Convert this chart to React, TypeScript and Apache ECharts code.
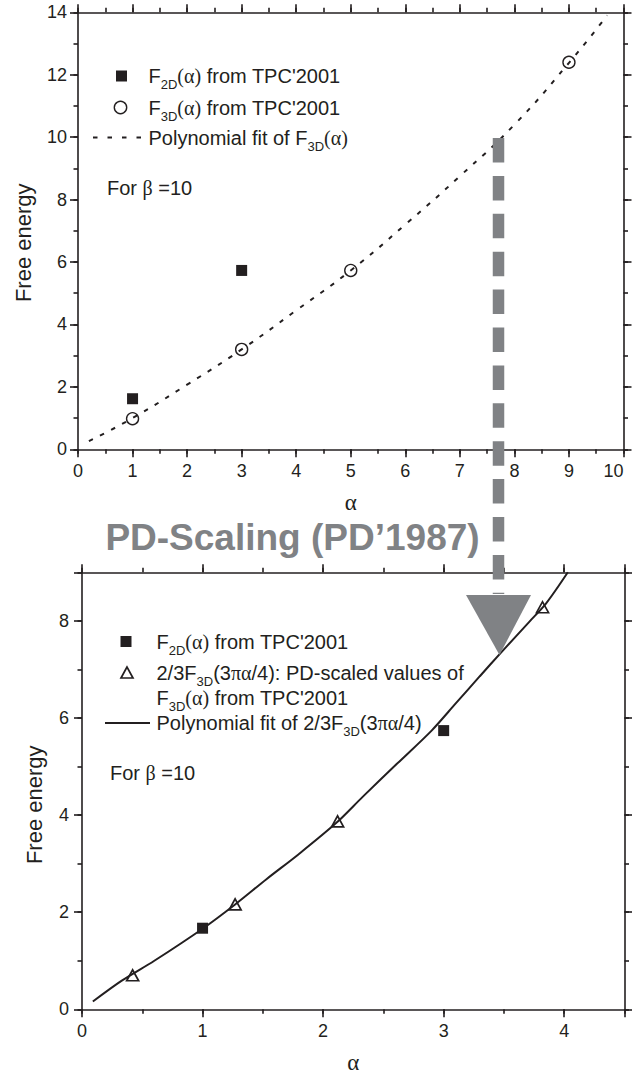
import React, { useEffect, useRef } from 'react';
import * as echarts from 'echarts';

// ---------- data ----------
// upper panel
const topF2DAlpha = [1, 3];
const topF2D = [1.62, 5.73];
const topF3DAlpha = [1, 3, 5, 9];
const topF3D = [0.98, 3.2, 5.73, 12.4];
const topFitAlpha = [0.2, 1, 2, 3, 4, 5, 6, 7, 8, 9, 9.7];
const topFit = [0.26, 1.0, 2.07, 3.2, 4.45, 5.73, 7.2, 8.75, 10.4, 12.38, 13.9];

// lower panel
const botF2DAlpha = [1, 3];
const botF2D = [1.67, 5.74];
const botScaledAlpha = [0.42, 1.27, 2.12, 3.82];
const botScaled = [0.7, 2.16, 3.87, 8.28];
const botFitAlpha = [0.09, 0.33, 0.6, 1.0, 1.27, 1.53, 1.8, 2.11, 2.33, 2.61, 2.9, 3.1, 3.3, 3.47, 3.71, 3.85, 4.03];
const botFit = [0.16, 0.59, 1.0, 1.66, 2.16, 2.68, 3.2, 3.84, 4.38, 5.05, 5.74, 6.3, 6.86, 7.33, 7.98, 8.36, 9.0];

// axis ranges / ticks
const topX = { min: 0, max: 10, major: 1, minor: 0.5 };
const topY = { min: 0, max: 14, major: 2, minor: 1 };
const botX = { min: 0, max: 4.5, major: 1, minor: 0.5 };
const botY = { min: 0, max: 9, major: 2, minor: 1 };

const xName = 'α';
const yName = 'Free energy';
const title = 'PD-Scaling (PD’1987)';

const INK = '#231f20';
const GRAY = '#808285';
const SANS = "'Liberation Sans', Arial, Helvetica, sans-serif";
const SERIF = "'Liberation Serif', 'Times New Roman', serif";

const zip = (a: number[], b: number[]) => a.map((v, i) => [v, b[i]]);
const stepLabel = (step: number) => (v: number) => (Math.abs(v / step - Math.round(v / step)) < 1e-9 ? String(v) : '');

function xAxes(grid: number, r: any, labelMargin: number, nameGap: number, alignMax: string) {
  const base: any = {
    type: 'value', gridIndex: grid, min: r.min, max: r.max,
    splitLine: { show: false },
    axisLine: { show: true, onZero: false, lineStyle: { color: INK, width: 1.6 } },
  };
  const majorTick = { show: true, inside: false, length: 8, lineStyle: { color: INK, width: 1.6 } };
  const minorTick = { show: true, inside: false, length: 4.5, lineStyle: { color: INK, width: 1.6 } };
  return [
    {
      ...base, position: 'bottom', interval: r.major, axisTick: majorTick,
      axisLabel: {
        show: true, margin: labelMargin, fontSize: 18, fontFamily: SANS, color: INK,
        formatter: stepLabel(r.major), alignMaxLabel: alignMax,
      },
      name: xName, nameLocation: 'middle', nameGap,
      nameTextStyle: { fontSize: 23, fontFamily: SERIF, color: INK },
    },
    { ...base, position: 'top', interval: r.major, axisTick: majorTick, axisLabel: { show: false } },
    { ...base, position: 'bottom', interval: r.minor, axisLine: { show: false, onZero: false }, axisTick: minorTick, axisLabel: { show: false } },
    { ...base, position: 'top', interval: r.minor, axisLine: { show: false, onZero: false }, axisTick: minorTick, axisLabel: { show: false } },
  ];
}

function yAxes(grid: number, r: any, labelMargin: number, nameGap: number, shift: number) {
  const base: any = {
    type: 'value', gridIndex: grid, min: r.min, max: r.max,
    splitLine: { show: false },
    axisLine: { show: true, onZero: false, lineStyle: { color: INK, width: 1.6 } },
  };
  const majorTick = { show: true, inside: false, length: 8, lineStyle: { color: INK, width: 1.6 } };
  const minorTick = { show: true, inside: false, length: 4.5, lineStyle: { color: INK, width: 1.6 } };
  return [
    {
      ...base, position: 'left', interval: r.major, axisTick: majorTick,
      axisLabel: { show: true, margin: labelMargin, fontSize: 18, fontFamily: SANS, color: INK, formatter: stepLabel(r.major) },
      name: yName, nameLocation: 'middle', nameGap, nameRotate: 90,
      nameTextStyle: { fontSize: 22, fontFamily: SANS, color: INK, padding: [0, shift, 0, 0] },
    },
    { ...base, position: 'right', interval: r.major, axisTick: majorTick, axisLabel: { show: false } },
    { ...base, position: 'left', interval: r.minor, axisLine: { show: false, onZero: false }, axisTick: minorTick, axisLabel: { show: false } },
    { ...base, position: 'right', interval: r.minor, axisLine: { show: false, onZero: false }, axisTick: minorTick, axisLabel: { show: false } },
  ];
}

const rich: any = {
  n: { fontSize: 20, fontFamily: SANS, lineHeight: 30, fill: INK },
  g: { fontSize: 20, fontFamily: SERIF, lineHeight: 30, fill: INK },
  s: { fontSize: 13, fontFamily: SANS, lineHeight: 13, verticalAlign: 'bottom', fill: INK },
};

function label(x: number, y: number, text: string) {
  return { type: 'text', x, y, z: 100, style: { text, rich, align: 'left', verticalAlign: 'middle', fill: INK } };
}

export default function App() {
  const ref = useRef<HTMLDivElement>(null);
  useEffect(() => {
    if (!ref.current) return;
    const chart = echarts.init(ref.current, undefined, { renderer: 'svg' });
    const solid = { color: INK, opacity: 1 };
    const hollow = { color: 'rgba(0,0,0,0)', opacity: 1, borderColor: INK };
    const option: any = {
      animation: false,
      backgroundColor: '#ffffff',
      grid: [
        { left: 78, top: 12.3, width: 545.5, height: 437, outerBoundsMode: 'none', containLabel: false },
        { left: 82, top: 572.3, width: 542.5, height: 437, outerBoundsMode: 'none', containLabel: false },
      ],
      xAxis: [...xAxes(0, topX, 13, 42, 'right'), ...xAxes(1, botX, 13, 42, 'center')],
      yAxis: [...yAxes(0, topY, 11, 44, 24), ...yAxes(1, botY, 13, 37, 28)],
      series: [
        {
          type: 'line', xAxisIndex: 0, yAxisIndex: 0, data: zip(topFitAlpha, topFit),
          showSymbol: false, symbol: 'none', smooth: true, z: 2,
          lineStyle: { color: INK, width: 2, type: [4.5, 8] },
        },
        {
          type: 'scatter', xAxisIndex: 0, yAxisIndex: 0, data: zip(topF2DAlpha, topF2D),
          symbol: 'rect', symbolSize: 11, itemStyle: solid, z: 4,
        },
        {
          type: 'scatter', xAxisIndex: 0, yAxisIndex: 0, data: zip(topF3DAlpha, topF3D),
          symbol: 'circle', symbolSize: 12, z: 4,
          itemStyle: { ...hollow, borderWidth: 1.4 },
        },
        {
          type: 'line', xAxisIndex: 4, yAxisIndex: 4, data: zip(botFitAlpha, botFit),
          showSymbol: false, symbol: 'none', smooth: 0.3, z: 2,
          lineStyle: { color: INK, width: 2, type: 'solid' },
        },
        {
          type: 'scatter', xAxisIndex: 4, yAxisIndex: 4, data: zip(botF2DAlpha, botF2D),
          symbol: 'rect', symbolSize: 11, itemStyle: solid, z: 4,
        },
        {
          type: 'scatter', xAxisIndex: 4, yAxisIndex: 4, data: zip(botScaledAlpha, botScaled),
          symbol: 'triangle', symbolSize: [12, 11], z: 4,
          itemStyle: { ...hollow, borderWidth: 1.7 },
        },
      ],
      graphic: [
        // upper legend
        { type: 'rect', z: 100, shape: { x: 116, y: 70.5, width: 11, height: 11 }, style: { fill: INK } },
        label(148.5, 76, "{n|F}{s|2D}{g|(α)}{n| from TPC'2001}"),
        { type: 'circle', z: 100, shape: { cx: 120.5, cy: 107.5, r: 6.2 }, style: { fill: 'none', stroke: INK, lineWidth: 1.4 } },
        label(148.5, 107.5, "{n|F}{s|3D}{g|(α)}{n| from TPC'2001}"),
        { type: 'line', z: 100, shape: { x1: 93, y1: 137.5, x2: 143, y2: 137.5 }, style: { stroke: INK, lineWidth: 2, lineDash: [4.5, 10] } },
        label(148.5, 137.5, '{n|Polynomial fit of F}{s|3D}{g|(α)}'),
        label(107, 188, '{n|For }{g|β}{n| =10}'),
        // lower legend
        { type: 'rect', z: 100, shape: { x: 120.5, y: 636, width: 11, height: 11 }, style: { fill: INK } },
        label(156.5, 641.5, "{n|F}{s|2D}{g|(α)}{n| from TPC'2001}"),
        { type: 'polygon', z: 100, shape: { points: [[127, 667], [121, 678], [133, 678]] }, style: { fill: 'none', stroke: INK, lineWidth: 1.7 } },
        label(156.5, 672.5, '{n|2/3F}{s|3D}{n|(3}{g|πα}{n|/4): PD-scaled values of}'),
        label(156.5, 698, "{n|F}{s|3D}{g|(α)}{n| from TPC'2001}"),
        { type: 'line', z: 100, shape: { x1: 105, y1: 723, x2: 150, y2: 723 }, style: { stroke: INK, lineWidth: 2 } },
        label(156.5, 723, '{n|Polynomial fit of 2/3F}{s|3D}{n|(3}{g|πα}{n|/4)}'),
        label(110, 772.5, '{n|For }{g|β}{n| =10}'),
        // title between panels
        {
          type: 'text', z: 100, x: 292.5, y: 537,
          style: { text: title, fill: GRAY, font: `bold 37px ${SANS}`, align: 'center', verticalAlign: 'middle' },
        },
        // dashed arrow
        {
          type: 'line', z: 101, shape: { x1: 498.5, y1: 138, x2: 498.5, y2: 594 },
          style: { stroke: GRAY, lineWidth: 11.5, lineDash: [24.5, 13.4], lineCap: 'butt' },
        },
        {
          type: 'polygon', z: 101, shape: { points: [[466, 595], [531, 595], [499.5, 655]] },
          style: { fill: GRAY, stroke: 'none' },
        },
      ],
    };
    chart.setOption(option);
    return () => chart.dispose();
  }, []);
  return <div ref={ref} style={{ position: 'absolute', left: 0, top: 0, width: 632, height: 1078 }} />;
}
